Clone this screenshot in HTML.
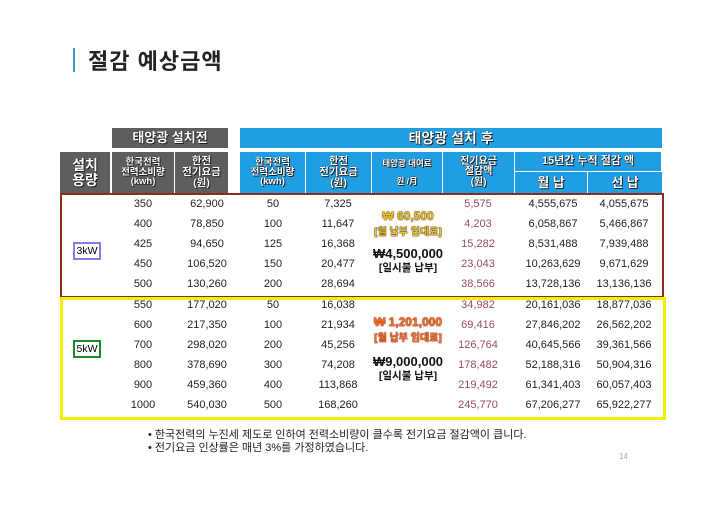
<!DOCTYPE html>
<html><head><meta charset="utf-8">
<style>
body{margin:0;width:720px;height:509px;background:#fff;position:relative;overflow:hidden;font-family:"Liberation Sans","Noto Sans CJK KR",sans-serif;}
.a{position:absolute;}
.h{position:absolute;color:#fff;font-weight:bold;text-align:center;display:flex;align-items:center;justify-content:center;line-height:1.05;text-shadow:0 0 1px #000,1px 1px 0 #222;}
.g{background:#5e5e5e;}
.b{background:#1f9ee3;border-right:1px solid #fff;box-sizing:border-box;}
.c{position:absolute;font-size:11px;color:#222;text-align:center;width:70px;}
.m{color:#9a4a6a;}
.ov{position:absolute;text-align:center;font-weight:bold;width:120px;left:348px;}
</style></head><body>
<div class="a" style="left:73px;top:48px;width:2px;height:24px;background:#3a9bd0"></div>
<div class="a" style="left:88px;top:44px;font-size:22px;font-weight:bold;color:#222;letter-spacing:1px">절감 예상금액</div>

<div class="h g" style="left:112px;top:128px;width:116px;height:20px;font-size:13px">태양광 설치전</div>
<div class="h b" style="left:240px;top:128px;width:422px;height:20px;font-size:14px;border:none">태양광 설치 후</div>

<div class="h g" style="left:60px;top:152px;width:50px;height:41px;font-size:14px">설치<br>용량</div>
<div class="h g" style="left:112px;top:152px;width:62px;height:41px;font-size:9.5px;border-right:1px solid #fff">한국전력<br>전력소비량<br>(kwh)</div>
<div class="h g" style="left:175px;top:152px;width:53px;height:41px;font-size:10.5px">한전<br>전기요금<br>(원)</div>
<div class="h b" style="left:240px;top:152px;width:66px;height:41px;font-size:9.5px">한국전력<br>전력소비량<br>(kwh)</div>
<div class="h b" style="left:306px;top:152px;width:66px;height:41px;font-size:10.5px">한전<br>전기요금<br>(원)</div>
<div class="h b" style="left:372px;top:152px;width:71px;height:41px;font-size:8.5px;flex-direction:column">태양광 대여료<br><br>원 /月</div>
<div class="h b" style="left:443px;top:152px;width:72px;height:41px;font-size:10px">전기요금<br>절감액<br>(원)</div>
<div class="h b" style="left:515px;top:152px;width:147px;height:20px;font-size:11px;border-bottom:1px solid #fff">15년간 누적 절감 액</div>
<div class="h b" style="left:515px;top:172px;width:73px;height:21px;font-size:13px">월 납</div>
<div class="h b" style="left:588px;top:172px;width:74px;height:21px;font-size:13px;border:none">선 납</div>

<div class="a" style="left:60px;top:193px;width:600px;height:101px;border:2px solid #8b2c1c"></div>
<div class="a" style="left:60px;top:297px;width:600px;height:117px;border:3px solid #f5f000"></div>
<div class="a" style="left:73px;top:242px;width:24px;height:14px;border:2px solid #8080e0;font-size:10.5px;text-align:center;line-height:14px">3kW</div>
<div class="a" style="left:73px;top:340px;width:24px;height:14px;border:2px solid #1a8a2a;font-size:10.5px;text-align:center;line-height:14px">5kW</div>

<div class="ov" style="top:209px;font-size:12px;color:#f0c020;text-shadow:0 0 1px #000,0 0 1px #000">₩ 60,500</div>
<div class="ov" style="top:223px;font-size:10px;color:#f0c020;text-shadow:0 0 1px #000,0 0 1px #000">[월 납부 임대료]</div>
<div class="ov" style="top:246px;font-size:13px;color:#111">₩4,500,000</div>
<div class="ov" style="top:260px;font-size:10.5px;color:#111">[일시불 납부]</div>
<div class="ov" style="top:315px;font-size:12px;color:#f07020;text-shadow:0 0 1px #600,0 0 1px #600">₩ 1,201,000</div>
<div class="ov" style="top:329px;font-size:10px;color:#f07020;text-shadow:0 0 1px #600,0 0 1px #600">[월 납부 임대료]</div>
<div class="ov" style="top:354px;font-size:13px;color:#111">₩9,000,000</div>
<div class="ov" style="top:368px;font-size:10.5px;color:#111">[일시불 납부]</div>

<div id="rows"></div>

<div class="a" style="left:148px;top:426px;font-size:11px;color:#222">• 한국전력의 누진세 제도로 인하여 전력소비량이 클수록 전기요금 절감액이 큽니다.</div>
<div class="a" style="left:148px;top:439px;font-size:11px;color:#222">• 전기요금 인상률은 매년 3%를 가정하였습니다.</div>
<div class="a" style="left:619px;top:452px;font-size:8px;color:#aaa">14</div>

<script>
const usageBefore=["350","400","425","450","500","550","600","700","800","900","1000"];
const feeBefore=["62,900","78,850","94,650","106,520","130,260","177,020","217,350","298,020","378,690","459,360","540,030"];
const usageAfter=["50","100","125","150","200","50","100","200","300","400","500"];
const feeAfter=["7,325","11,647","16,368","20,477","28,694","16,038","21,934","45,256","74,208","113,868","168,260"];
const saving=["5,575","4,203","15,282","23,043","38,566","34,982","69,416","126,764","178,482","219,492","245,770"];
const monthly=["4,555,675","6,058,867","8,531,488","10,263,629","13,728,136","20,161,036","27,846,202","40,645,566","52,188,316","61,341,403","67,206,277"];
const prepaid=["4,055,675","5,466,867","7,939,488","9,671,629","13,136,136","18,877,036","26,562,202","39,361,566","50,904,316","60,057,403","65,922,277"];
const cols=[[usageBefore,143,"usage-before",""],[feeBefore,207,"fee-before",""],[usageAfter,273,"usage-after",""],[feeAfter,338,"fee-after",""],[saving,478,"saving","m"],[monthly,553,"monthly-cumulative",""],[prepaid,624,"prepaid-cumulative",""]];
const root=document.getElementById('rows');
for(let i=0;i<usageBefore.length;i++){
  const y=i<5?198+i*20:299+(i-5)*20;
  for(const [arr,cx,nm,cl] of cols){
    const d=document.createElement('div');
    d.className='c '+cl;
    d.style.left=(cx-35)+'px';d.style.top=y+'px';
    d.textContent=arr[i];
    
    
    root.appendChild(d);
  }
}
</script>
</body></html>
